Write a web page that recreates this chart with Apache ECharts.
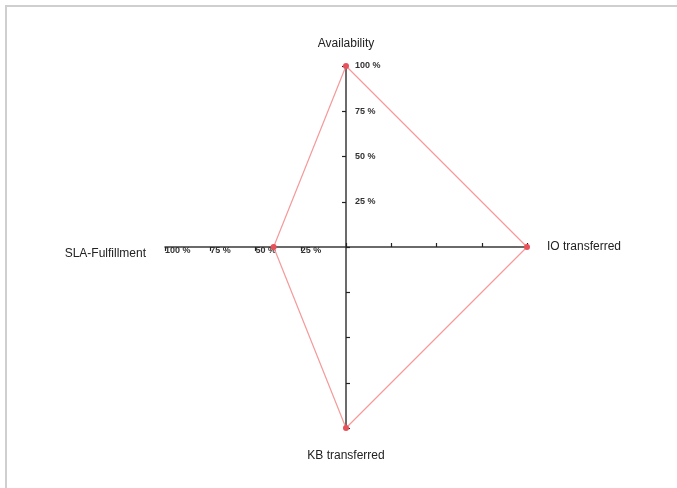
<!DOCTYPE html>
<html>
<head>
<meta charset="utf-8">
<script src="https://cdn.jsdelivr.net/npm/echarts@6/dist/echarts.min.js"></script>
<style>
  html, body { margin: 0; padding: 0; background: #fff; }
  #frame {
    position: absolute; left: 5px; top: 5px; right: -10px; bottom: -10px;
    border-top: 2px solid #cfcfcf; border-left: 2px solid #cfcfcf;
  }
  #chart { position: absolute; left: 0; top: 0; width: 677px; height: 488px; }
</style>
</head>
<body>
<div id="frame"></div>
<div id="chart"></div>
<script>
// indicators, radar goes counter-clockwise from top
const indicatorNames = ["Availability", "SLA-Fulfillment", "KB transferred", "IO transferred"];
const values = [100, 40, 100, 100];

const chart = echarts.init(document.getElementById("chart"));

// per-axis label placement (right of the vertical axis, under the horizontal one)
const labelStyle = [
  { show: true, align: "left", verticalAlign: "middle", margin: -9 },
  { show: true, align: "left", verticalAlign: "middle", margin: 4 },
  { show: false },
  { show: false }
];
const nameGaps = [16, 19, 22, 20];

const indicator = indicatorNames.map((name, i) => ({
  name: name,
  min: 0,
  max: 100,
  nameGap: nameGaps[i],
  axisLabel: labelStyle[i]
}));

chart.setOption({
  animation: false,
  radar: {
    center: [346, 247],
    radius: 181,
    startAngle: 90,
    shape: "polygon",
    splitNumber: 4,
    indicator: indicator,
    axisName: {
      color: "#222",
      fontFamily: "Liberation Sans, Arial, sans-serif",
      fontSize: 12,
      // SLA label sits a bit below its axis in the original
      formatter: name => name === "SLA-Fulfillment" ? "{low|" + name + "}" : name,
      rich: {
        low: {
          padding: [14, 0, 0, 0],
          color: "#222",
          fontFamily: "Liberation Sans, Arial, sans-serif",
          fontSize: 12
        }
      }
    },
    splitLine: { show: false },
    splitArea: { show: false },
    axisLine: { lineStyle: { color: "#3a3a3a", width: 1.5 } },
    axisTick: { show: true, length: 4, lineStyle: { color: "#222", width: 1.2 } },
    axisLabel: {
      showMinLabel: false,
      color: "#333",
      fontSize: 9,
      fontWeight: "bold",
      fontFamily: "Liberation Sans, Arial, sans-serif",
      formatter: v => v + " %"
    }
  },
  series: [{
    type: "radar",
    symbol: "circle",
    symbolSize: 6,
    itemStyle: { color: "#e8505a" },
    lineStyle: { color: "#f59a9a", width: 1.2 },
    data: [{ value: values }]
  }]
});
</script>
</body>
</html>
